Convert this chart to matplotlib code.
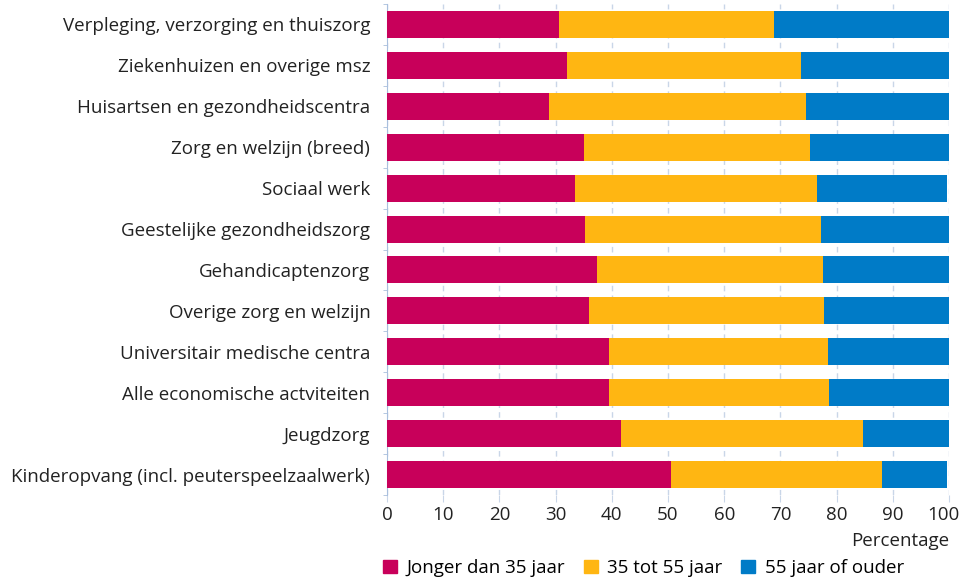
import numpy as np
import matplotlib
matplotlib.use('Agg')
from matplotlib import pyplot as plt
from matplotlib.patches import Patch
from matplotlib.transforms import ScaledTranslation

plt.rcParams['font.family'] = ['Open Sans', 'DejaVu Sans']

categories = [
    'Verpleging, verzorging en thuiszorg',
    'Ziekenhuizen en overige msz',
    'Huisartsen en gezondheidscentra',
    'Zorg en welzijn (breed)',
    'Sociaal werk',
    'Geestelijke gezondheidszorg',
    'Gehandicaptenzorg',
    'Overige zorg en welzijn',
    'Universitair medische centra',
    'Alle economische actviteiten',
    'Jeugdzorg',
    'Kinderopvang (incl. peuterspeelzaalwerk)',
]
jong = [30.6, 32.1, 28.9, 35.0, 33.5, 35.2, 37.4, 36.0, 39.5, 39.5, 41.6, 50.5]
midden = [38.3, 41.6, 45.6, 40.2, 43.0, 42.1, 40.2, 41.7, 39.0, 39.2, 43.1, 37.6]
oud = [31.1, 26.3, 25.5, 24.8, 23.2, 22.7, 22.4, 22.3, 21.5, 21.3, 15.3, 11.6]
series_labels = ['Jonger dan 35 jaar', '35 tot 55 jaar', '55 jaar of ouder']
colors = ['#C8005A', '#FFB612', '#007BC7']
xticks = list(range(0, 101, 10))

FS = 13.5

fig = plt.figure(figsize=(9.61, 5.82), dpi=100)
ax = fig.add_axes([387 / 961, 1 - 495 / 582, (949 - 387) / 961, 491 / 582])

y = np.arange(len(categories))
left = np.zeros(len(categories))
for vals, col in zip([jong, midden, oud], colors):
    ax.barh(y, vals, left=left, height=0.66, color=col, zorder=3)
    left = left + np.array(vals)

ax.set_ylim(len(categories) - 0.5, -0.5)
ax.set_xlim(0, 100)
ax.set_yticks(y)
ax.set_yticklabels(categories, fontsize=FS, color='#222222')
ax.set_yticks(np.arange(-0.5, len(categories), 1), minor=True)
ax.tick_params(axis='y', which='major', length=0, pad=12)
ax.tick_params(axis='y', which='minor', length=3, color='#A9BFDD')
ax.set_xticks(xticks)
ax.set_xticklabels([str(t) for t in xticks], fontsize=FS, color='#222222')
ax.tick_params(axis='x', length=5, color='#C9D6E8', pad=3)
ax.xaxis.grid(True, color='#C9D6E8', linestyle=(0, (4, 3)), linewidth=1, zorder=0)

# nudge the "100" label a bit to the left so it stays inside the figure
last = ax.get_xticklabels()[-1]
last.set_transform(last.get_transform() + ScaledTranslation(-6 / 100, 0, fig.dpi_scale_trans))

for s in ['top', 'right', 'bottom']:
    ax.spines[s].set_visible(False)
ax.spines['left'].set_color('#A9BFDD')

fig.text(949 / 961, 1 - 541 / 582, 'Percentage', ha='right', va='center',
         fontsize=FS, color='#222222')

handles = [Patch(color=c, label=l) for c, l in zip(colors, series_labels)]
fig.legend(handles=handles, loc='center left', bbox_to_anchor=(366 / 961, 1 - 568 / 582),
           ncol=3, frameon=False, fontsize=FS, handlelength=0.75, handleheight=0.75,
           handletextpad=0.5, columnspacing=1.0)

fig.savefig('out.png', dpi=100)
